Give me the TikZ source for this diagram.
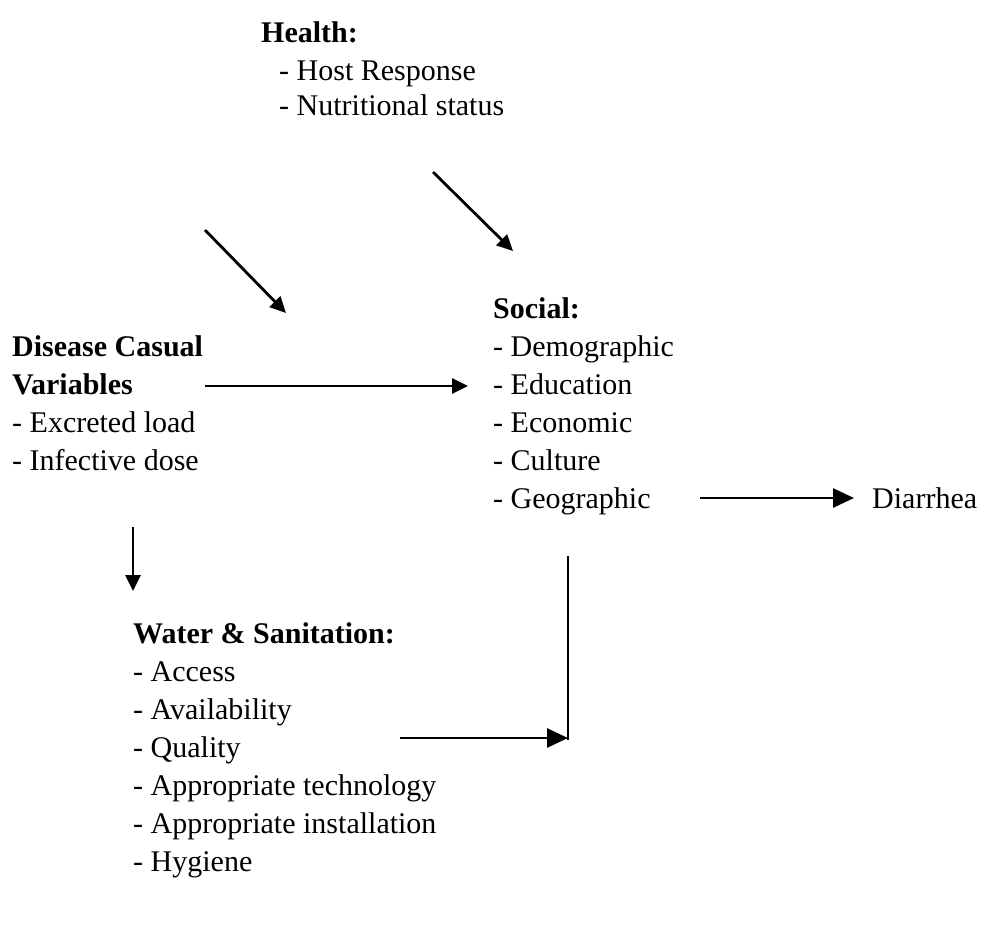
\documentclass[tikz,border=0pt]{standalone}
\usepackage{fontspec}
\setmainfont{Liberation Serif}
\usetikzlibrary{arrows.meta}
\begin{document}
\begin{tikzpicture}[x=1pt,y=-1pt,
  txt/.style={anchor=base west,inner sep=0pt,font=\fontsize{30}{38}\selectfont},
  head/.style={txt,font=\fontsize{30}{38}\selectfont\bfseries},
  link/.style={line width=2.8pt},
  arr/.style={link,-{Triangle[length=16pt,width=15pt]}},
  bigarr/.style={link,-{Triangle[length=21pt,width=19pt]}}]
\useasboundingbox (0,0) rectangle (994,932);
\fill[white] (0,0) rectangle (994,932);

% Health block
\node[head] (health) at (261,42) {Health:};
\node[txt] (host) at (279,80) {- Host Response};
\node[txt] (nutr) at (279,115) {- Nutritional status};

% Disease causal variables block
\node[head] (dis1) at (12,356) {Disease Casual};
\node[head] (dis2) at (12,394) {Variables};
\node[txt] (excr) at (12,432) {- Excreted load};
\node[txt] (infd) at (12,470) {- Infective dose};

% Social block
\node[head] (social) at (493,318) {Social:};
\node[txt] (demo) at (493,356) {- Demographic};
\node[txt] (educ) at (493,394) {- Education};
\node[txt] (econ) at (493,432) {- Economic};
\node[txt] (cult) at (493,470) {- Culture};
\node[txt] (geo)  at (493,508) {- Geographic};

% Outcome
\node[txt] (diar) at (872,508) {Diarrhea};

% Water and sanitation block
\node[head] (water) at (133,643) {Water \& Sanitation:};
\node[txt] (acc)  at (133,681) {- Access};
\node[txt] (avail) at (133,719) {- Availability};
\node[txt] (qual) at (133,757) {- Quality};
\node[txt] (tech) at (133,795) {- Appropriate technology};
\node[txt] (inst) at (133,833) {- Appropriate installation};
\node[txt] (hyg)  at (133,871) {- Hygiene};

% Arrow end points
\coordinate (a1s) at (205,230); \coordinate (a1e) at (286,313);
\coordinate (a2s) at (433,172); \coordinate (a2e) at (513,251);
\coordinate (a3s) at (205,386); \coordinate (a3e) at (468,386);
\coordinate (a4s) at (700,498); \coordinate (a4e) at (854,498);
\coordinate (a5s) at (133,527); \coordinate (a5e) at (133,591);
\coordinate (vtop) at (568,556); \coordinate (vbot) at (568,740);
\coordinate (a6s) at (400,738); \coordinate (a6e) at (568,738);

% Connectors
\draw[arr] (a1s) -- (a1e);
\draw[arr] (a2s) -- (a2e);
\draw[arr] (a3s) -- (a3e);
\draw[bigarr] (a4s) -- (a4e);
\draw[arr] (a5s) -- (a5e);
\draw[link] (vtop) -- (vbot);
\draw[bigarr] (a6s) -- (a6e);
\end{tikzpicture}
\end{document}
